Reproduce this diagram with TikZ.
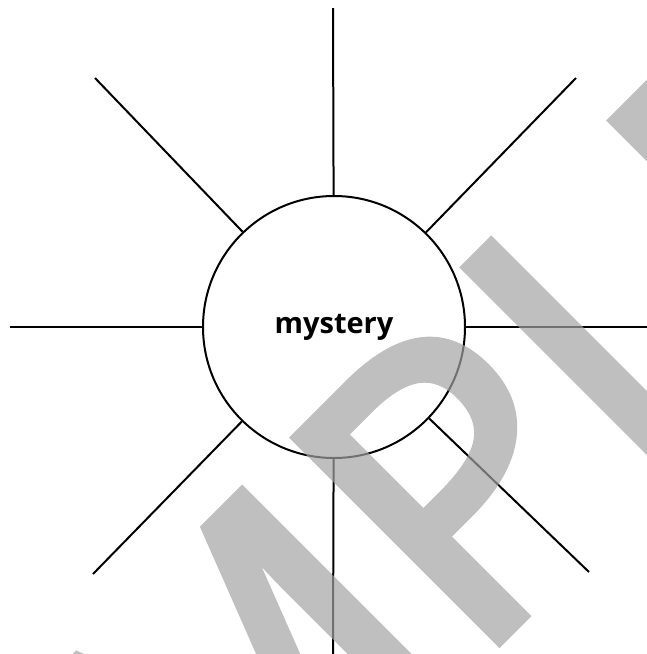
\documentclass[tikz,border=0pt]{standalone}
\usepackage{fontspec}
\newfontfamily\hubfont{Open Sans}
\newfontfamily\markfont[FakeBold=3]{Open Sans}

\begin{document}
\begin{tikzpicture}[
  x=1pt,y=-1pt,
  line width=2pt,
  hub node/.style={circle,draw,minimum size=262pt,inner sep=0pt,font=\hubfont\bfseries\fontsize{29}{34}\selectfont},
  spoke/.style={draw=black},
  mark text/.style={text=black!36,font=\markfont\fontsize{400}{400}\selectfont,rotate=45,anchor=base,inner sep=0pt},
]
\useasboundingbox (0,0) rectangle (647,654);
\node[hub node] (hub) at (334,327) {mystery};
\coordinate (n) at (333,8);
\coordinate (s) at (333,654);
\coordinate (w) at (10,327);
\coordinate (e) at (647,327);
\coordinate (nw) at (95,78);
\coordinate (ne) at (576,78);
\coordinate (sw) at (93,574);
\coordinate (se) at (589,572);
\foreach \end in {n,s,w,e,nw,ne,sw,se}
  \draw[spoke] (hub) -- (\end);
% watermark
\begin{scope}[transparency group,opacity=0.69]
  \node[mark text] (mark) at (414,725) {SAMPLE};
\end{scope}
\end{tikzpicture}
\end{document}
